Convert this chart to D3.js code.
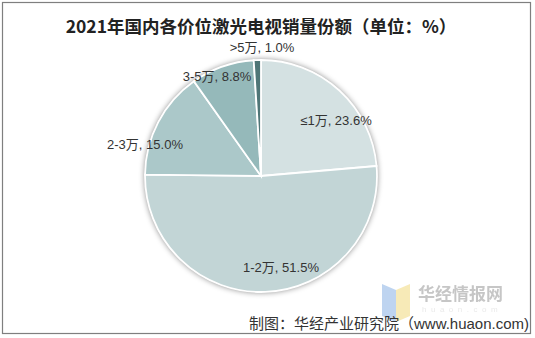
<!DOCTYPE html>
<html>
<head>
<meta charset="utf-8">
<script src="https://cdn.jsdelivr.net/npm/d3@7"></script>
<style>
  body { margin: 0; background: #fff; }
  text { font-family: "Liberation Sans", "Noto Sans CJK SC", sans-serif; }
</style>
</head>
<body>
<div id="chart"></div>
<script>
// data
var categories = ["≤1万", "1-2万", "2-3万", "3-5万", ">5万"];
var shares = [23.6, 51.5, 15.0, 8.8, 1.0];
var sliceColors = ["#d4e1e2", "#c2d5d6", "#abc8c9", "#95b9ba", "#4f7677"];

var width = 535, height = 338;
var cx = 261, cy = 176, r = 116;

var svg = d3.select("#chart")
    .append("svg")
    .attr("width", width)
    .attr("height", height);

// frame
svg.append("rect")
    .attr("x", 2.5).attr("y", 2.5)
    .attr("width", 528).attr("height", 331)
    .attr("fill", "#fff")
    .attr("stroke", "#7f7f7f")
    .attr("stroke-width", 1.2);

// shadow filter
var defs = svg.append("defs");
var f = defs.append("filter").attr("id", "shadow")
    .attr("x", "-20%").attr("y", "-20%").attr("width", "140%").attr("height", "140%");
f.append("feGaussianBlur").attr("in", "SourceAlpha").attr("stdDeviation", 3);
f.append("feOffset").attr("dx", 0).attr("dy", 0).attr("result", "blur");
f.append("feComponentTransfer").append("feFuncA").attr("type", "linear").attr("slope", 0.55);
var m = f.append("feMerge");
m.append("feMergeNode");
m.append("feMergeNode").attr("in", "SourceGraphic");

// title
svg.append("text")
    .attr("x", 261).attr("y", 33)
    .attr("text-anchor", "middle")
    .style("font-family", "'Noto Sans CJK SC', sans-serif")
    .style("font-size", "17.5px")
    .style("font-weight", "bold")
    .style("fill", "#222")
    .text("2021年国内各价位激光电视销量份额（单位：%）");

var pie = d3.pie().sort(null).value(function(d) { return d; });
var arcs = pie(shares);
var arc = d3.arc().innerRadius(0).outerRadius(r);

var g = svg.append("g")
    .attr("transform", "translate(" + cx + "," + cy + ")");

g.append("circle").attr("r", r).attr("fill", "#c2d5d6").attr("filter", "url(#shadow)");

g.selectAll("path.slice")
    .data(arcs)
    .enter().append("path")
    .attr("class", "slice")
    .attr("d", arc)
    .attr("fill", function(d, i) { return sliceColors[i]; })
    .attr("stroke", "#fff")
    .attr("stroke-width", 1.8);

// labels
var labelPos = [[336, 125], [281, 272], [145, 149], [217, 81], [262, 52]];
svg.selectAll("text.lbl")
    .data(arcs)
    .enter().append("text")
    .attr("class", "lbl")
    .attr("x", function(d, i) { return labelPos[i][0]; })
    .attr("y", function(d, i) { return labelPos[i][1]; })
    .attr("text-anchor", "middle")
    .style("font-size", "13px")
    .style("fill", "#333")
    .text(function(d, i) { return categories[i] + ", " + shares[i].toFixed(1) + "%"; });

// watermark
var wm = svg.append("g").attr("opacity", 0.75);
wm.append("path").attr("d", "M382,284 L396,290 L396,322 L382,316 Z").attr("fill", "#a9c6ec");
wm.append("path").attr("d", "M396,290 L410,284 L410,316 L396,322 Z").attr("fill", "#f5e3a0");
wm.append("text")
    .attr("x", 418).attr("y", 300)
    .style("font-family", "'Noto Sans CJK SC', sans-serif")
    .style("font-size", "17px")
    .style("font-weight", "bold")
    .style("fill", "#b3b3b3")
    .text("华经情报网");
wm.append("text")
    .attr("x", 422).attr("y", 312)
    .style("font-size", "8px")
    .style("letter-spacing", "4.5px")
    .style("fill", "#e3e3e3")
    .text("huaon.com");

// source
svg.append("text")
    .attr("x", 249).attr("y", 329)
    .style("font-size", "15px")
    .style("fill", "#333")
    .text("制图：华经产业研究院（www.huaon.com)");
</script>
</body>
</html>
